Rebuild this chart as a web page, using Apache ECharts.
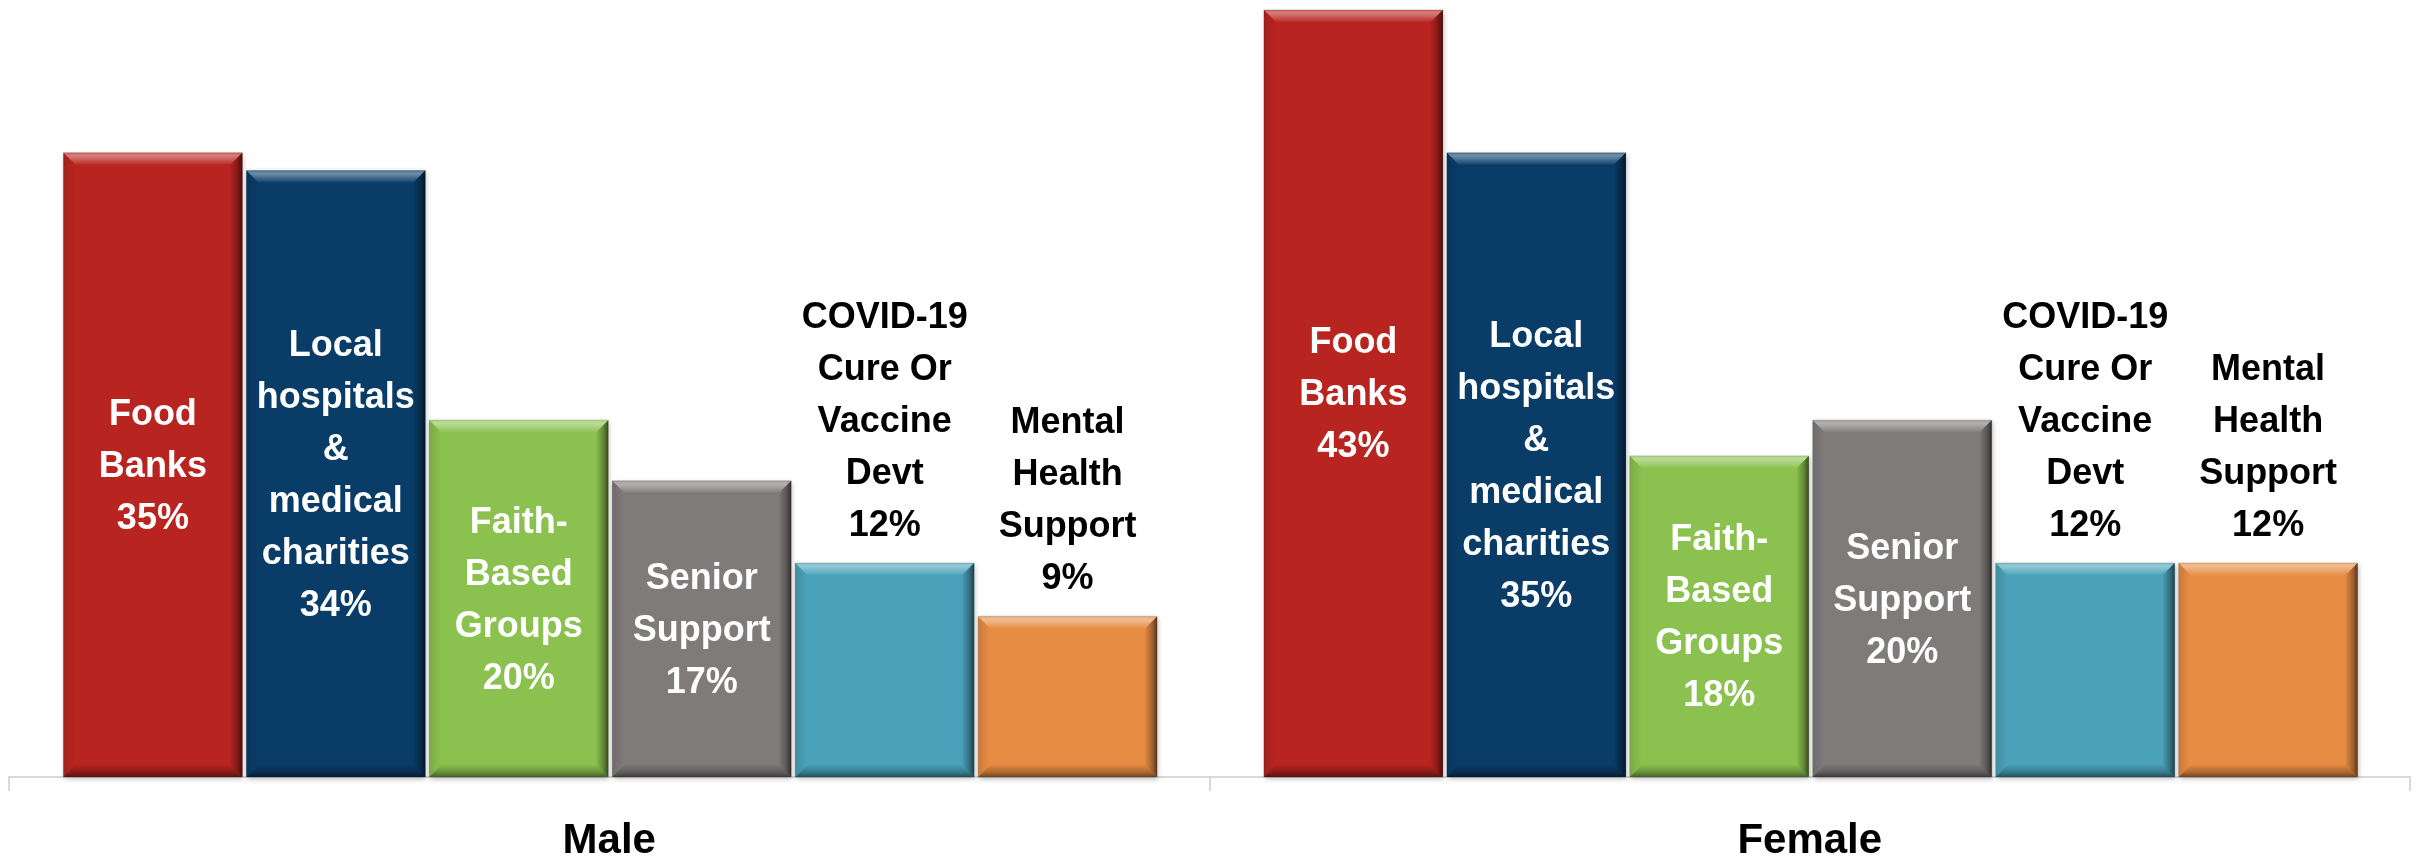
<!DOCTYPE html>
<html>
<head>
<meta charset="utf-8">
<script src="https://cdn.jsdelivr.net/npm/echarts@6/dist/echarts.min.js"></script>
<style>
html, body { margin: 0; padding: 0; background: #ffffff; }
#chart { width: 2420px; height: 862px; }
</style>
</head>
<body>
<div id="chart"></div>
<script>
// ---- data ----
const groups = ['Male', 'Female'];
const causes = [
  'Food\nBanks',
  'Local\nhospitals\n&\nmedical\ncharities',
  'Faith-\nBased\nGroups',
  'Senior\nSupport',
  'COVID-19\nCure Or\nVaccine\nDevt',
  'Mental\nHealth\nSupport'
];
const maleValues = [35, 34, 20, 16.6, 12, 9];
const femaleValues = [43, 35, 18, 20, 12, 12];
const yMax = 43.5;

// ---- style ----
const colors = ['#B82420', '#0A3C68', '#8BC24F', '#7F7B7A', '#4AA2BA', '#E78C43'];
const labelOutside = [false, false, false, false, true, true];
const FONT = 'Liberation Sans';
const CAT_GAP = 0.0445;   // gap on each side of a group, fraction of band
const BAR_GAP = 0.0225;   // gap between bars, fraction of bar width
const BEVEL = 12;

function renderBar(params, api) {
  const s = params.seriesIndex;
  const n = causes.length;
  const cat = api.value(0);
  const val = api.value(1);
  const bandW = api.size([1, 0])[0];
  const base = api.coord([cat, 0]);
  const top = api.coord([cat, val]);
  const cx = base[0];
  const y1 = base[1];
  const y0 = top[1];
  const groupW = bandW * (1 - 2 * CAT_GAP);
  const w = groupW / (n + (n - 1) * BAR_GAP);
  const x0 = cx - groupW / 2 + s * w * (1 + BAR_GAP) + 1;
  const x1 = x0 + w;
  const b = Math.min(BEVEL, (y1 - y0) / 2);

  const lin = (x2, y2, stops) => ({
    type: 'linear', x: 0, y: 0, x2: x2, y2: y2, global: false,
    colorStops: stops.map(st => ({ offset: st[0], color: st[1] }))
  });

  const children = [
    {
      type: 'rect',
      shape: { x: x0, y: y0, width: w, height: y1 - y0 },
      style: {
        fill: colors[s],
        stroke: 'rgba(0,0,0,0.15)', lineWidth: 1,
        shadowBlur: 5, shadowColor: 'rgba(0,0,0,0.28)',
        shadowOffsetX: 1, shadowOffsetY: 2
      }
    },
    { // top highlight
      type: 'polygon',
      shape: { points: [[x0, y0], [x1, y0], [x1 - b, y0 + b], [x0 + b, y0 + b]] },
      style: { fill: lin(0, 1, [[0, 'rgba(255,255,255,0.25)'], [0.25, 'rgba(255,255,255,0.42)'], [1, 'rgba(255,255,255,0.04)']]) }
    },
    { // right shade
      type: 'polygon',
      shape: { points: [[x1, y0], [x1, y1], [x1 - b, y1 - b], [x1 - b, y0 + b]] },
      style: { fill: lin(1, 0, [[0, 'rgba(0,0,0,0.03)'], [0.6, 'rgba(0,0,0,0.3)'], [1, 'rgba(0,0,0,0.6)']]) }
    },
    { // bottom shade
      type: 'polygon',
      shape: { points: [[x0, y1], [x1, y1], [x1 - b, y1 - b], [x0 + b, y1 - b]] },
      style: { fill: lin(0, 1, [[0, 'rgba(0,0,0,0.03)'], [0.6, 'rgba(0,0,0,0.25)'], [1, 'rgba(0,0,0,0.5)']]) }
    },
    { // left shade
      type: 'polygon',
      shape: { points: [[x0, y0], [x0 + b, y0 + b], [x0 + b, y1 - b], [x0, y1]] },
      style: { fill: lin(1, 0, [[0, 'rgba(0,0,0,0.12)'], [1, 'rgba(0,0,0,0.0)']]) }
    }
  ];

  const text = causes[s] + '\n' + Math.round(val) + '%';
  const outside = labelOutside[s];
  children.push({
    type: 'text',
    z2: 10,
    style: {
      text: text,
      x: (x0 + x1) / 2,
      y: outside ? y0 - 11 : (y0 + y1) / 2 + 2,
      align: 'center',
      verticalAlign: outside ? 'bottom' : 'middle',
      fill: outside ? '#000000' : '#ffffff',
      fontFamily: FONT,
      fontWeight: 'bold',
      fontSize: 36,
      lineHeight: 52
    }
  });

  return { type: 'group', children: children };
}

const series = causes.map((c, i) => ({
  type: 'custom',
  name: c,
  renderItem: renderBar,
  clip: false,
  encode: { x: 0, y: 1 },
  data: [[0, maleValues[i]], [1, femaleValues[i]]]
}));

const chart = echarts.init(document.getElementById('chart'), null, { renderer: 'canvas' });
chart.setOption({
  backgroundColor: '#ffffff',
  animation: false,
  grid: { left: 9, right: 10, top: 1, bottom: 82 },
  xAxis: {
    type: 'category',
    data: groups,
    boundaryGap: true,
    axisLine: { show: true, lineStyle: { color: '#D9D9D9', width: 2 } },
    axisTick: { show: true, length: 14, lineStyle: { color: '#D9D9D9', width: 2 } },
    axisLabel: {
      color: '#000000', fontFamily: FONT, fontWeight: 'bold', fontSize: 42,
      lineHeight: 42, margin: 43
    },
    splitLine: { show: false }
  },
  yAxis: { type: 'value', min: 0, max: yMax, show: false },
  series: series
});
</script>
</body>
</html>
